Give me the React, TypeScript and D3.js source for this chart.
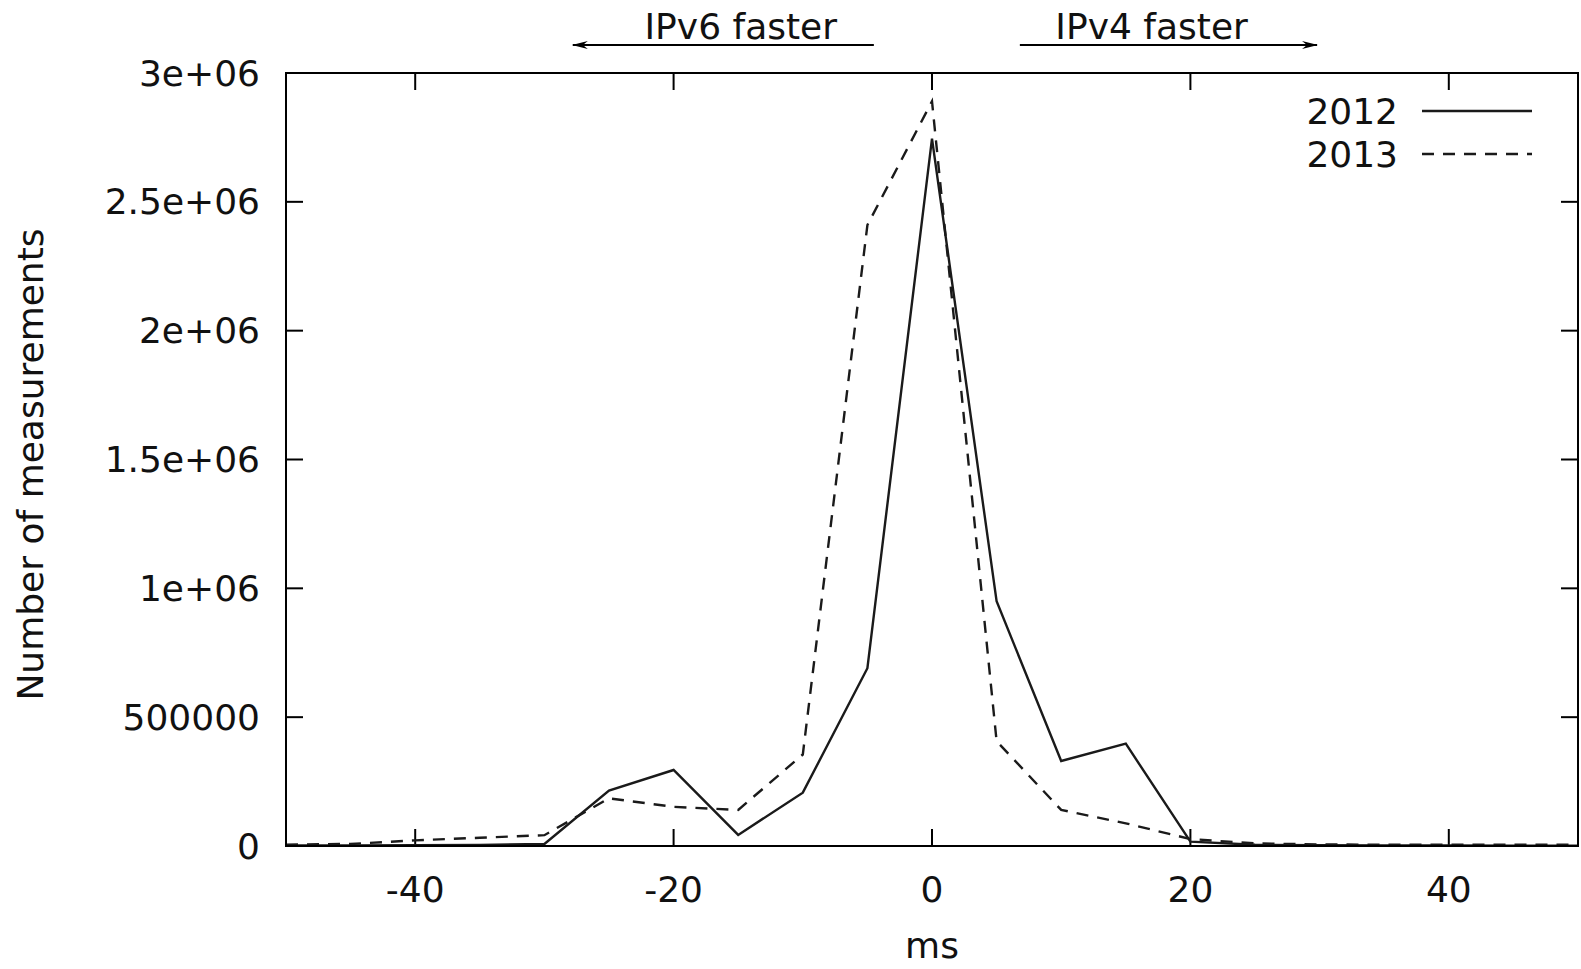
import * as d3 from "d3";

// histogram bins (ms), IPv4 minus IPv6 connect time
const msBins = [
  -50, -45, -40, -35, -30, -25, -20, -15, -10, -5, 0, 5, 10, 15, 20, 25, 30, 35, 40, 45, 50,
];
const counts2012 = [
  2000, 2500, 3000, 4000, 8000, 215000, 295000, 43000, 207000, 690000, 2745000, 950000,
  330000, 397000, 17000, 5000, 3000, 2000, 2000, 1500, 1500,
];
const counts2013 = [
  5000, 8000, 22000, 32000, 42000, 185000, 152000, 140000, 355000, 2410000, 2890000,
  407000, 140000, 88000, 27000, 10000, 6000, 5000, 5000, 5000, 5000,
];
const seriesNames = ["2012", "2013"];
const xTicks = [-40, -20, 0, 20, 40];
const yTicks = [0, 500000, 1000000, 1500000, 2000000, 2500000, 3000000];
const yTickLabels = ["0", "500000", "1e+06", "1.5e+06", "2e+06", "2.5e+06", "3e+06"];

const W = 1581;
const H = 969;
const FONT = "'DejaVu Sans', Verdana, sans-serif";
const FS = 36;
const INK = "#111";

export default function App() {
  const m = { left: 286, right: 1578, top: 73, bottom: 846 };
  const x = d3.scaleLinear().domain([-50, 50]).range([m.left, m.right]);
  const y = d3.scaleLinear().domain([0, 3000000]).range([m.bottom, m.top]);
  const tick = 17;

  const line = d3
    .line<number>()
    .x((_, i) => x(msBins[i]))
    .y((d) => y(d));

  const dash = "12,9";

  return (
    <svg
      width={W}
      height={H}
      style={{ position: "absolute", left: 0, top: 0, background: "#fff" }}
      fontFamily={FONT}
      fontSize={FS}
      fill={INK}
    >
      <defs>
        <marker
          id="arr"
          viewBox="0 0 16 10"
          refX="15"
          refY="5"
          markerWidth="16"
          markerHeight="10"
          markerUnits="userSpaceOnUse"
          orient="auto"
        >
          <path d="M0,1 L16,5 L0,9 L5,5 Z" fill="#000" />
        </marker>
      </defs>

      {/* ticks, mirrored on all sides */}
      {xTicks.map((t) => (
        <g key={"xt" + t} stroke="#000" strokeWidth={2}>
          <line x1={x(t)} x2={x(t)} y1={m.bottom} y2={m.bottom - tick} />
          <line x1={x(t)} x2={x(t)} y1={m.top} y2={m.top + tick} />
        </g>
      ))}
      {yTicks.map((t) => (
        <g key={"yt" + t} stroke="#000" strokeWidth={2}>
          <line x1={m.left} x2={m.left + tick} y1={y(t)} y2={y(t)} />
          <line x1={m.right} x2={m.right - tick} y1={y(t)} y2={y(t)} />
        </g>
      ))}

      {/* data */}
      <path d={line(counts2012) ?? ""} fill="none" stroke="#1a1a1a" strokeWidth={2.4} />
      <path
        d={line(counts2013) ?? ""}
        fill="none"
        stroke="#1a1a1a"
        strokeWidth={2.4}
        strokeDasharray={dash}
      />

      <rect
        x={m.left}
        y={m.top}
        width={m.right - m.left}
        height={m.bottom - m.top}
        fill="none"
        stroke="#000"
        strokeWidth={2}
      />

      {/* tick labels */}
      {xTicks.map((t) => (
        <text key={"xl" + t} x={x(t)} y={m.bottom + 43} dy="0.35em" textAnchor="middle">
          {t}
        </text>
      ))}
      {yTicks.map((t, i) => (
        <text key={"yl" + t} x={m.left - 26} y={y(t)} dy="0.35em" textAnchor="end">
          {yTickLabels[i]}
        </text>
      ))}

      {/* axis titles */}
      <text x={x(0)} y={945} dy="0.35em" textAnchor="middle">
        ms
      </text>
      <text
        transform={`translate(30,${(m.top + m.bottom) / 2 + 5}) rotate(-90)`}
        dy="0.35em"
        textAnchor="middle"
      >
        Number of measurements
      </text>

      {/* direction annotations */}
      <text x={x(-14.8)} y={26} dy="0.35em" textAnchor="middle">
        IPv6 faster
      </text>
      <line
        x1={x(-4.5)}
        x2={x(-27.8)}
        y1={45}
        y2={45}
        stroke="#000"
        strokeWidth={2}
        markerEnd="url(#arr)"
      />
      <text x={x(17)} y={26} dy="0.35em" textAnchor="middle">
        IPv4 faster
      </text>
      <line
        x1={x(6.8)}
        x2={x(29.8)}
        y1={45}
        y2={45}
        stroke="#000"
        strokeWidth={2}
        markerEnd="url(#arr)"
      />

      {/* legend */}
      {seriesNames.map((name, i) => (
        <g key={name}>
          <text x={1398} y={111 + i * 43} dy="0.35em" textAnchor="end">
            {name}
          </text>
          <line
            x1={1422}
            x2={1532}
            y1={111 + i * 43}
            y2={111 + i * 43}
            stroke="#1a1a1a"
            strokeWidth={2.4}
            strokeDasharray={i === 1 ? dash : undefined}
          />
        </g>
      ))}
    </svg>
  );
}
